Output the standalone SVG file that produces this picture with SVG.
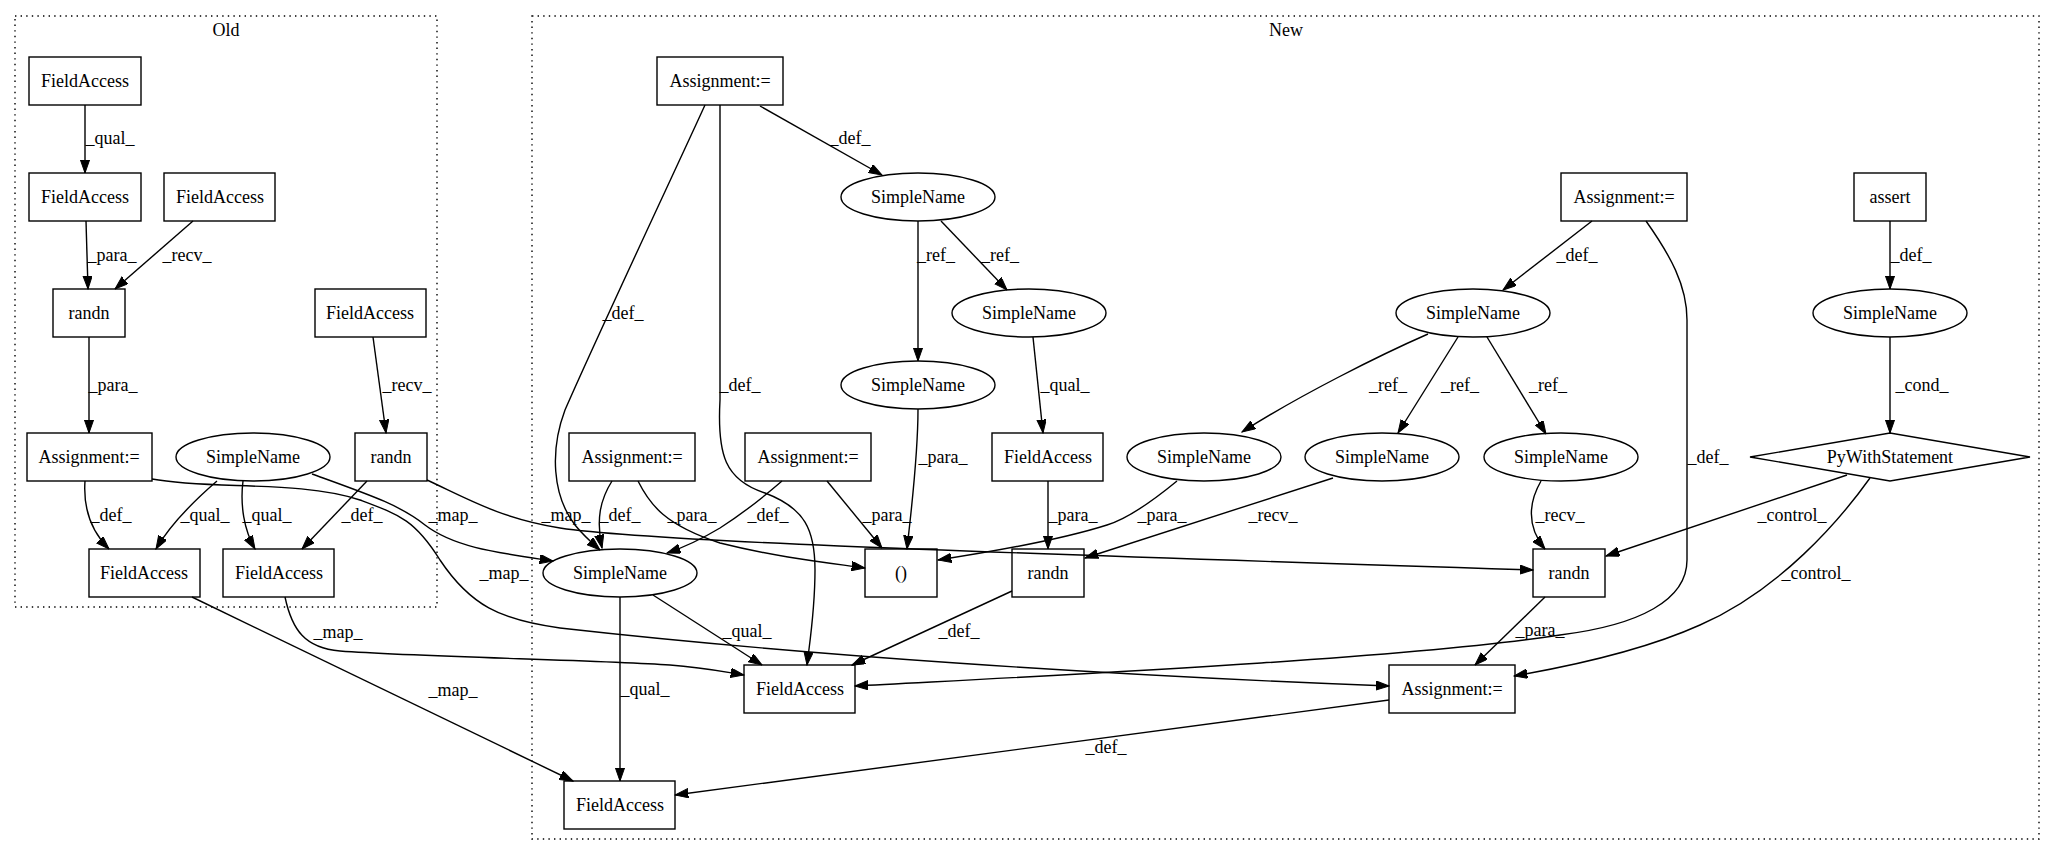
<svg xmlns="http://www.w3.org/2000/svg" width="2056" height="856" viewBox="0 0 2056 856" font-family="'Liberation Serif', 'Times New Roman', Times, 'DejaVu Serif', serif">
<style>
.n{fill:none;stroke:#000;stroke-width:1.4}
text{font-family:'Liberation Serif','Times New Roman',Times,'DejaVu Serif',serif;font-size:18px;text-anchor:middle;fill:#000}
.e{fill:none;stroke:#000;stroke-width:1.4;marker-end:url(#a)}
.c{fill:none;stroke:#000;stroke-width:1.4;stroke-dasharray:1.4 4.2}
</style>
<defs>
<marker id="a" markerUnits="userSpaceOnUse" markerWidth="14" markerHeight="10" refX="13.3" refY="4.67" orient="auto">
<path d="M0,0 L13.3,4.67 L0,9.33 z" fill="#000" stroke="#000" stroke-width="1"/>
</marker>
</defs>
<rect x="0" y="0" width="2056" height="856" fill="#fff"/>
<g id="cluster_old">
<rect class="c" x="15" y="16" width="422" height="591"/>
<text x="226" y="36">Old</text>
</g>
<g id="cluster_new">
<rect class="c" x="532" y="16" width="1507" height="823"/>
<text x="1286" y="36">New</text>
</g>
<g id="connectors">
<path class="e" d="M85,105 L85,173"/><text x="110" y="144">_qual_</text>
<path class="e" d="M86,221 L88,289"/><text x="112" y="261">_para_</text>
<path class="e" d="M193,221 L115,289"/><text x="187" y="261">_recv_</text>
<path class="e" d="M89,337 L89,433"/><text x="113" y="391">_para_</text>
<path class="e" d="M373,337 L386,433"/><text x="407" y="391">_recv_</text>
<path class="e" d="M85,481 C83,510 92,532 109,549"/><text x="111" y="521">_def_</text>
<path class="e" d="M217,481 C195,500 170,525 156,549"/><text x="205" y="521">_qual_</text>
<path class="e" d="M243,481 C240,505 244,530 255,549"/><text x="267" y="521">_qual_</text>
<path class="e" d="M367,481 L302,549"/><text x="362" y="521">_def_</text>
<path class="e" d="M312,474 C370,495 400,505 425,525 C455,548 500,553 553,561"/><text x="453" y="521">_map_</text>
<path class="e" d="M152,479 C210,490 300,480 360,500 C400,515 415,520 440,560 C470,605 500,620 560,628 C800,655 1100,675 1389,686"/><text x="504" y="579">_map_</text>
<path class="e" d="M427,480 C470,500 500,518 560,528 C640,540 900,550 1533,570"/><text x="566" y="521">_map_</text>
<path class="e" d="M285,597 C292,630 305,648 340,651 C420,657 600,660 670,665 C700,667 720,671 744,675"/><text x="338" y="638">_map_</text>
<path class="e" d="M192,597 L573,781"/><text x="453" y="696">_map_</text>
<path class="e" d="M760,106 L882,175"/><text x="850" y="144">_def_</text>
<path class="e" d="M705,105 C680,160 600,330 565,410 C550,450 552,495 575,525 C583,535 592,543 600,550"/><text x="623" y="319">_def_</text>
<path class="e" d="M720,105 L720,400 C717,455 725,480 765,493 C805,508 815,530 815,570 C815,610 810,640 807,665"/><text x="740" y="391">_def_</text>
<path class="e" d="M918,221 L918,361"/><text x="936" y="261">_ref_</text>
<path class="e" d="M941,221 L1007,290"/><text x="1000" y="261">_ref_</text>
<path class="e" d="M918,409 C918,460 910,520 907,549"/><text x="943" y="463">_para_</text>
<path class="e" d="M1033,337 L1043,433"/><text x="1065" y="391">_qual_</text>
<path class="e" d="M1048,481 L1048,549"/><text x="1073" y="521">_para_</text>
<path class="e" d="M1177,481 C1160,495 1130,518 1107,525 C1060,540 990,552 938,560"/><text x="1162" y="521">_para_</text>
<path class="e" d="M1333,478 L1085,558"/><text x="1273" y="521">_recv_</text>
<path class="e" d="M1428,334 C1380,355 1300,395 1242,432"/><text x="1388" y="391">_ref_</text>
<path class="e" d="M1458,337 L1398,433"/><text x="1460" y="391">_ref_</text>
<path class="e" d="M1487,337 L1546,434"/><text x="1548" y="391">_ref_</text>
<path class="e" d="M1541,481 C1530,500 1525,525 1545,549"/><text x="1560" y="521">_recv_</text>
<path class="e" d="M1592,221 L1503,290"/><text x="1577" y="261">_def_</text>
<path class="e" d="M1646,221 C1670,255 1687,285 1687,320 L1687,560 C1687,600 1640,625 1560,635 C1400,660 1000,678 855,686"/><text x="1708" y="463">_def_</text>
<path class="e" d="M1890,221 L1890,289"/><text x="1911" y="261">_def_</text>
<path class="e" d="M1890,337 L1890,433"/><text x="1922" y="391">_cond_</text>
<path class="e" d="M1847,475 L1606,556"/><text x="1792" y="521">_control_</text>
<path class="e" d="M1870,478 C1840,520 1780,590 1700,625 C1640,652 1560,668 1514,676"/><text x="1816" y="579">_control_</text>
<path class="e" d="M1545,597 L1475,665"/><text x="1540" y="636">_para_</text>
<path class="e" d="M1012,591 L852,665"/><text x="959" y="637">_def_</text>
<path class="e" d="M653,595 L762,665"/><text x="747" y="637">_qual_</text>
<path class="e" d="M620,597 L620,781"/><text x="645" y="695">_qual_</text>
<path class="e" d="M1389,700 L675,795"/><text x="1106" y="753">_def_</text>
<path class="e" d="M612,481 C600,500 596,520 602,548"/><text x="620" y="521">_def_</text>
<path class="e" d="M638,481 C650,505 665,525 720,543 C780,558 830,563 865,568"/><text x="692" y="521">_para_</text>
<path class="e" d="M782,481 C760,500 745,512 720,528 C700,540 685,547 667,553"/><text x="768" y="521">_def_</text>
<path class="e" d="M827,481 L882,548"/><text x="887" y="521">_para_</text>
</g>
<g id="o_fa1"><rect class="n" x="29" y="57" width="112" height="48"/><text x="85" y="87">FieldAccess</text></g>
<g id="o_fa2"><rect class="n" x="29" y="173" width="112" height="48"/><text x="85" y="203">FieldAccess</text></g>
<g id="o_fa3"><rect class="n" x="164" y="173" width="111" height="48"/><text x="220" y="203">FieldAccess</text></g>
<g id="o_randn1"><rect class="n" x="53" y="289" width="72" height="48"/><text x="89" y="319">randn</text></g>
<g id="o_fa4"><rect class="n" x="315" y="289" width="111" height="48"/><text x="370" y="319">FieldAccess</text></g>
<g id="o_assign"><rect class="n" x="27" y="433" width="125" height="48"/><text x="89" y="463">Assignment:=</text></g>
<g id="o_sn"><ellipse class="n" cx="253" cy="457" rx="77" ry="24"/><text x="253" y="463">SimpleName</text></g>
<g id="o_randn2"><rect class="n" x="355" y="433" width="72" height="48"/><text x="391" y="463">randn</text></g>
<g id="o_fa5"><rect class="n" x="89" y="549" width="111" height="48"/><text x="144" y="579">FieldAccess</text></g>
<g id="o_fa6"><rect class="n" x="223" y="549" width="111" height="48"/><text x="279" y="579">FieldAccess</text></g>
<g id="n_assign1"><rect class="n" x="657" y="57" width="126" height="48"/><text x="720" y="87">Assignment:=</text></g>
<g id="n_sn2"><ellipse class="n" cx="918" cy="197" rx="77" ry="24"/><text x="918" y="203">SimpleName</text></g>
<g id="n_sn3"><ellipse class="n" cx="1029" cy="313" rx="77" ry="24"/><text x="1029" y="319">SimpleName</text></g>
<g id="n_sn7"><ellipse class="n" cx="918" cy="385" rx="77" ry="24"/><text x="918" y="391">SimpleName</text></g>
<g id="n_fa8"><rect class="n" x="992" y="433" width="111" height="48"/><text x="1048" y="463">FieldAccess</text></g>
<g id="n_assign4"><rect class="n" x="1561" y="173" width="126" height="48"/><text x="1624" y="203">Assignment:=</text></g>
<g id="n_sn5"><ellipse class="n" cx="1473" cy="313" rx="77" ry="24"/><text x="1473" y="319">SimpleName</text></g>
<g id="n_assert"><rect class="n" x="1854" y="173" width="72" height="48"/><text x="1890" y="203">assert</text></g>
<g id="n_sn6"><ellipse class="n" cx="1890" cy="313" rx="77" ry="24"/><text x="1890" y="319">SimpleName</text></g>
<g id="n_pywith"><polygon class="n" points="1750,457 1890,433 2030,457 1890,481"/><text x="1890" y="463">PyWithStatement</text></g>
<g id="n_sn9"><ellipse class="n" cx="1204" cy="457" rx="77" ry="24"/><text x="1204" y="463">SimpleName</text></g>
<g id="n_sn10"><ellipse class="n" cx="1382" cy="457" rx="77" ry="24"/><text x="1382" y="463">SimpleName</text></g>
<g id="n_sn11"><ellipse class="n" cx="1561" cy="457" rx="77" ry="24"/><text x="1561" y="463">SimpleName</text></g>
<g id="n_assign12"><rect class="n" x="569" y="433" width="126" height="48"/><text x="632" y="463">Assignment:=</text></g>
<g id="n_assign13"><rect class="n" x="745" y="433" width="126" height="48"/><text x="808" y="463">Assignment:=</text></g>
<g id="n_paren14"><rect class="n" x="865" y="549" width="72" height="48"/><text x="901" y="579">()</text></g>
<g id="n_sn15"><ellipse class="n" cx="620" cy="573" rx="77" ry="24"/><text x="620" y="579">SimpleName</text></g>
<g id="n_randn16"><rect class="n" x="1012" y="549" width="72" height="48"/><text x="1048" y="579">randn</text></g>
<g id="n_randn17"><rect class="n" x="1533" y="549" width="72" height="48"/><text x="1569" y="579">randn</text></g>
<g id="n_fa18"><rect class="n" x="744" y="665" width="111" height="48"/><text x="800" y="695">FieldAccess</text></g>
<g id="n_fa19"><rect class="n" x="564" y="781" width="111" height="48"/><text x="620" y="811">FieldAccess</text></g>
<g id="n_assign20"><rect class="n" x="1389" y="665" width="126" height="48"/><text x="1452" y="695">Assignment:=</text></g>
</svg>
